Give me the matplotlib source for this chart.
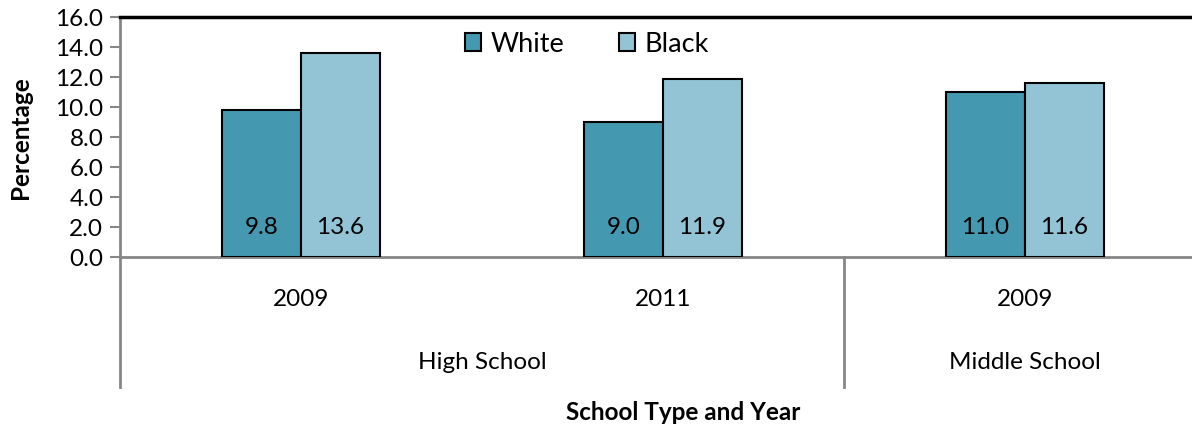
import matplotlib
matplotlib.use("Agg")
import matplotlib.pyplot as plt
import matplotlib.transforms as mtransforms
from matplotlib.patches import Patch

plt.rcParams['font.family'] = ['Lato', 'DejaVu Sans']

years = ["2009", "2011", "2009"]
school_types = ["High School", "Middle School"]
school_spans = [(0, 1), (2, 2)]
series_names = ["White", "Black"]
white_values = [9.8, 9.0, 11.0]
black_values = [13.6, 11.9, 11.6]
y_ticks = [0, 2, 4, 6, 8, 10, 12, 14, 16]

color_white = "#4499B0"
color_black = "#93C4D5"
axis_gray = "#868686"
fs = 17.5

W, H = 1192, 427
fig = plt.figure(figsize=(W / 100, H / 100), dpi=100)
left, right, bottom, top = 120, 1206, 258, 18
ax = fig.add_axes([left / W, (H - bottom) / H, (right - left) / W, (bottom - top) / H])

n = len(years)
x = list(range(n))
bw = 0.218
bars_w = ax.bar([i - bw / 2 for i in x], white_values, width=bw, color=color_white,
                edgecolor="black", linewidth=1.5, label=series_names[0], zorder=3)
bars_b = ax.bar([i + bw / 2 for i in x], black_values, width=bw, color=color_black,
                edgecolor="black", linewidth=1.5, label=series_names[1], zorder=3)

# value labels near the base of each bar
for bars, vals in ((bars_w, white_values), (bars_b, black_values)):
    for b, v in zip(bars, vals):
        ax.text(b.get_x() + b.get_width() / 2, 2.0, f"{v:.1f}", ha="center", va="center",
                fontsize=fs, color="black", zorder=4)

ax.set_xlim(-0.5, n - 0.5)
ax.set_ylim(0, 16)
ax.set_yticks(y_ticks)
ax.set_yticklabels([f"{t:.1f}" for t in y_ticks], fontsize=fs)
ax.tick_params(axis="y", direction="out", length=7, width=1.5, color=axis_gray, pad=5)
ax.set_xticks([])

for s in ("left", "bottom"):
    ax.spines[s].set_color(axis_gray)
    ax.spines[s].set_linewidth(2)
ax.spines["top"].set_color("black")
ax.spines["top"].set_linewidth(2.5)
ax.spines["right"].set_visible(False)

# two-level category axis below the plot
trans = mtransforms.blended_transform_factory(ax.transData, ax.transAxes)
ph = bottom - top


def yfrac(px_below):
    return -px_below / ph


for i, yr in enumerate(years):
    ax.text(i, yfrac(300 - bottom), yr, transform=trans, ha="center", va="center", fontsize=fs)
for name, (a, b) in zip(school_types, school_spans):
    ax.text((a + b) / 2, yfrac(363 - bottom), name, transform=trans, ha="center",
            va="center", fontsize=fs)
for xs in (-0.5, 1.5):
    ax.plot([xs, xs], [0, yfrac(388 - bottom)], transform=trans, color=axis_gray,
            linewidth=2, clip_on=False)

fig.text(683 / W, (H - 413) / H, "School Type and Year",
         ha="center", va="center", fontsize=fs, fontweight="bold")
fig.text(20 / W, (H - 138) / H, "Percentage", rotation=90, ha="center", va="center",
         fontsize=fs, fontweight="bold")

handles = [Patch(facecolor=color_white, edgecolor="black", linewidth=1.5),
           Patch(facecolor=color_black, edgecolor="black", linewidth=1.5)]
fig.legend(handles, series_names, loc="center", bbox_to_anchor=(587 / W, (H - 45) / H),
           ncol=2, frameon=False, fontsize=19.5, handlelength=0.6, handleheight=0.6,
           handletextpad=0.35, columnspacing=2.0)

fig.savefig("out.png", dpi=100)
